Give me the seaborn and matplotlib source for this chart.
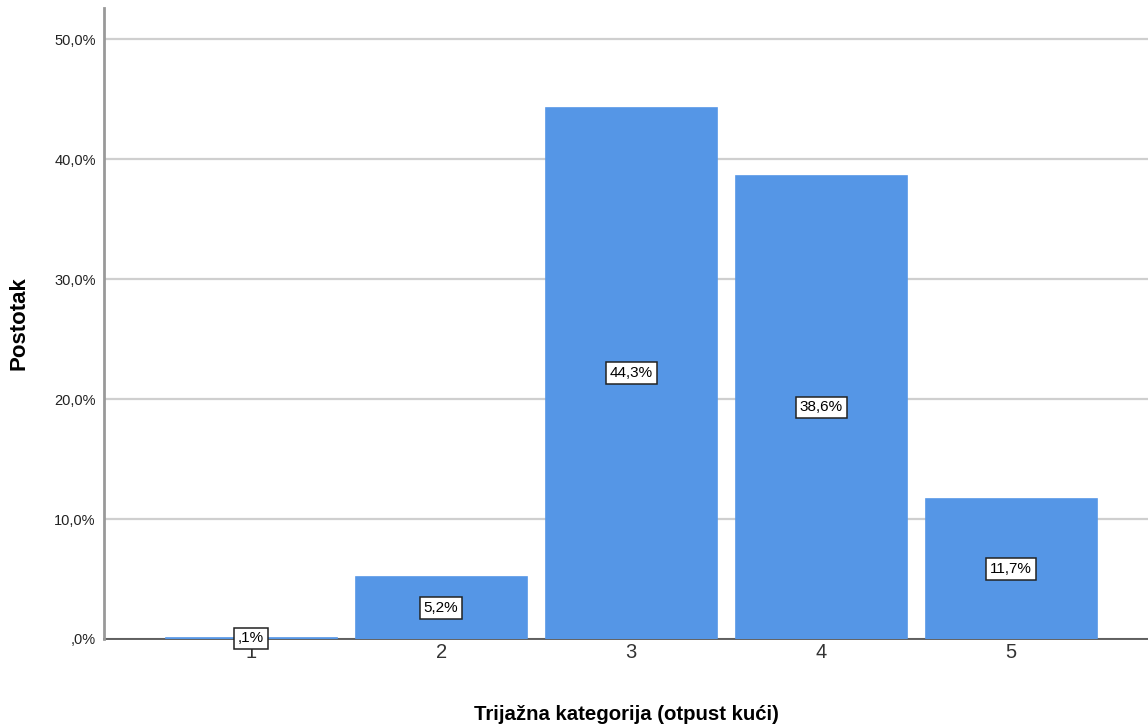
import matplotlib
matplotlib.use("Agg")
import matplotlib.pyplot as plt
from matplotlib.ticker import FuncFormatter, MultipleLocator
import seaborn as sns
import pandas as pd

# podaci s grafa
kategorije = ["1", "2", "3", "4", "5"]
postotci = [0.1, 5.2, 44.3, 38.6, 11.7]
oznake = [",1%", "5,2%", "44,3%", "38,6%", "11,7%"]

df = pd.DataFrame({"kategorija": kategorije, "postotak": postotci})

sns.set_theme(style="white")
plt.rcParams["font.family"] = ["Liberation Sans", "DejaVu Sans"]


def fmt_postotak(v, pos):
    s = ("%.1f%%" % v).replace(".", ",")
    if s.startswith("0,"):
        s = s[1:]
    return s


fig = plt.figure(figsize=(11.48, 7.25), dpi=100, facecolor="white")
ax = fig.add_axes([104 / 1148, 86 / 725, 1 - 104 / 1148, (639 - 8) / 725])

ax.yaxis.grid(True, color="#cfcfcf", linewidth=1.6)
ax.set_axisbelow(True)

sns.barplot(data=df, x="kategorija", y="postotak", color="#5596e6",
            saturation=1, width=0.9, ax=ax, zorder=2,
            edgecolor="#5596e6", linewidth=1.2)

# oznake u sredini stupaca
for i, (v, t) in enumerate(zip(postotci, oznake)):
    ax.text(i, v / 2, t, ha="center", va="center", fontsize=11, color="black",
            zorder=4,
            bbox=dict(boxstyle="square,pad=0.25", facecolor="white",
                      edgecolor="#222222", linewidth=1.1))

ax.set_xlim(-0.774, 4.72)
ax.set_ylim(0, 52.6)
ax.yaxis.set_major_locator(MultipleLocator(10))
ax.yaxis.set_major_formatter(FuncFormatter(fmt_postotak))

ax.tick_params(axis="y", length=0, pad=6, labelsize=10.5, labelcolor="#222222")
ax.tick_params(axis="x", length=0, pad=3, labelsize=14.5, labelcolor="#333333")

for s in ["top", "right"]:
    ax.spines[s].set_visible(False)
ax.spines["left"].set_color("#999999")
ax.spines["left"].set_linewidth(2)
ax.spines["bottom"].set_color("#555555")
ax.spines["bottom"].set_linewidth(1.3)
ax.spines["bottom"].set_zorder(1.5)

ax.set_xlabel("Trijažna kategorija (otpust kući)", fontsize=14.7, fontweight="bold",
              labelpad=31, color="black")
ax.set_ylabel("Postotak", fontsize=16, fontweight="bold", color="black")
ax.yaxis.set_label_coords(-104 / 1148 + 22 / 1148, 0.5)

fig.savefig("out.png", dpi=100, facecolor="white")
